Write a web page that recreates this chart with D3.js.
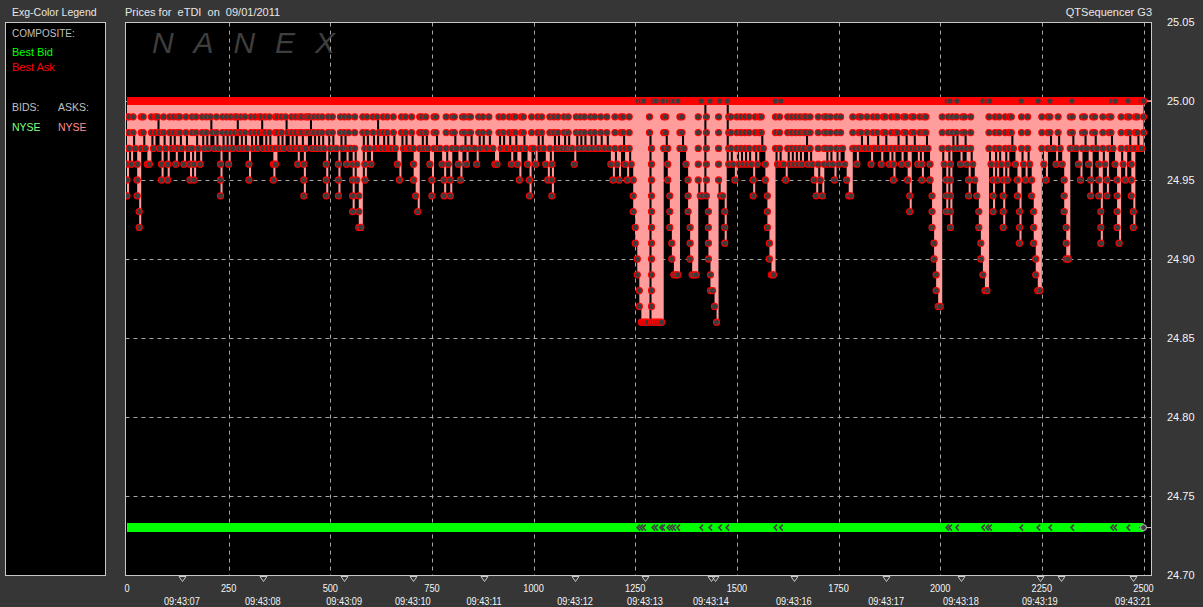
<!DOCTYPE html>
<html><head><meta charset="utf-8">
<script src="https://cdn.jsdelivr.net/npm/d3@7"></script>
<style>
html,body{margin:0;padding:0;background:#363636;}
svg{display:block;font-family:"Liberation Sans",Arial,sans-serif;}
</style></head><body>
<svg id="c" width="1203" height="607"></svg>
<script>
// ---------- DATA ----------
// NYSE ask: deepest level (cents below 25.00) reached in each 5-tick sample
const askDepthA = [6,3,4,2,3,6,8,3,2,3,4,4,2,3,2,1,3,5,2,3,5,2,3,2,4,3,2,3,4,2,3,5,3,5,2,3,4,2,3,2,3,1,2,3,2,3,6,2,3,2,4,2,3,2,1,3,2,3,2,3,5,2,3,2,3,2,1,3,2,3,2,3,5,4,2,3,2,3,1,2,3,2,3,2,4,3,2,6,3,2,1,3,2,3,2,3,2,3,6,2,3,2,3,3,6,2,3,2,4,3,3,7,3,5,8,8,2,5,2,3,4,2,3,1,3];
const askDepthB = [3,2,3,2,3,3,2,3,4,5,2,3,2,3,3,2,5,6,7,3,2,3,2,3,4,6,3,2,3,3,4,6,3,4,6,3,2,3,4,5,3,2,4,3,2,3,3,4,2,3,2,3,3,2,3,3,4,4,2,3,2,3,3,2,4,3,2,4,5,3,2,3,4,6,3,3,4,2,3,2,3,4,5,3,6,2,3,2,3,3,2,3,2,3,3,4,2,3,2,3,2,3,3,2,3,2,3,3,2,3,3,2,3,4,5,3,4,5,3,2,4,5,3,4,7];
const askDepthC = [9,11,13,14,14,14,14,2,14,14,14,14,14,14,3,2,5,8,10,11,11,11,3,2,3,4,7,10,11,11,11,5,6,6,0,6,10,12,12,13,14,5,6,6,9,0,4,3,4,5,3,4,3,4,3,4,3,4,6,3,4,3,2,3,5,8,10,11,11,3,4,3,4,4,5,3,4,3,4,3,4,3,4,3,2,4,3,4,5,6,4,5,6,4,3,4,3,4,5,3,4,3,3,4,5,6,6,3,3,4,3,2,3,3,2,3,4,3,3,2,3,4,3,2,3];
const askDepthD = [4,3,5,3,2,3,4,3,2,5,7,3,2,3,4,3,5,3,2,3,5,8,10,12,13,13,3,4,7,3,8,2,3,2,3,4,3,2,4,6,3,4,5,6,8,10,11,12,12,3,4,7,3,5,3,4,8,3,5,3,2,3,4,6,9,3,4,5,3,4,6,9,11,12,12,3,4,5,3,2,3,3,4,2,3,4,7,10,10,3,2,3,3,4,5,3,2,3,4,6,3,2,3,6,9,3,4,6,3,2,3,4,8,9,3,4,5,3,2,6,8,3,2,3,3,2];
const sampleTicks = 5;            // ticks per sample
const bestAsk = 25.00;            // composite best ask
const bestBid = 24.73;            // composite best bid (= NYSE bid)
const lastTick = 2500;
// ticks at which NYSE ask touched 25.00 (markers on both bands)
const quoteTicks = [1257,1264,1271,1294,1301,1313,1318,1331,1338,1345,1355,1412,1434,1458,1476,1594,1608,2017,2024,2041,2105,2115,2122,2199,2241,2270,2324,2422,2430,2462,2494];
// time (second) markers on bottom axis
const secondTicks = [135,334,534,703,878,1102,1274,1436,1446,1640,1867,2051,2245,2297,2474];
const secondLabels = ["09:43:07","09:43:08","09:43:09","09:43:10","09:43:11","09:43:12","09:43:13","09:43:14","09:43:15","09:43:16","09:43:17","09:43:18","09:43:19","09:43:20","09:43:21"];
const indexTicks = [0,250,500,750,1000,1250,1500,1750,2000,2250,2500];
const priceTicks = [24.70,24.75,24.80,24.85,24.90,24.95,25.00,25.05];

// ---------- DRAW ----------
const svg = d3.select('#c');
const W = 1203, H = 607;
svg.append('rect').attr('width', W).attr('height', H).attr('fill', '#363636');

const x = d3.scaleLinear().domain([0, 2500]).range([127, 1143.5]);
const y = d3.scaleLinear().domain([24.70, 25.05]).range([575, 22]);
const PL = 125.5, PR = 1151.5, PT = 22.5, PB = 575.5;

// titles
const txt = (t, xx, yy, col, anchor, size) => svg.append('text').attr('x', xx).attr('y', yy)
  .attr('fill', col).attr('font-size', size || 11).attr('text-anchor', anchor || 'start')
  .style('white-space', 'pre').text(t);
txt('Exg-Color Legend', 12, 16, '#e6e6e6', 'start', 10.5);
txt('Prices for  eTDI  on  09/01/2011', 125, 16, '#e6e6e6');
txt('QTSequencer G3', 1152, 16, '#e6e6e6', 'end');

// legend box
svg.append('rect').attr('x', 5.5).attr('y', PT).attr('width', 100).attr('height', PB - PT)
  .attr('fill', '#000').attr('stroke', '#c8c8c8');
txt('COMPOSITE:', 12, 37, '#c0c0c0', 'start', 10);
txt('Best Bid', 12, 56, '#00ff00');
txt('Best Ask', 12, 71, '#ff0000');
txt('BIDS:', 12, 111, '#c0c0c0', 'start', 10.5);
txt('ASKS:', 58, 111, '#c0c0c0', 'start', 10.5);
txt('NYSE', 12, 131, '#80ff80', 'start', 10.5);
txt('NYSE', 58, 131, '#ff9090', 'start', 10.5);

// plot frame
svg.append('rect').attr('x', PL).attr('y', PT).attr('width', PR - PL).attr('height', PB - PT)
  .attr('fill', '#000');
svg.append('clipPath').attr('id', 'clip').append('rect')
  .attr('x', PL).attr('y', PT).attr('width', PR - PL).attr('height', PB - PT);
const g = svg.append('g').attr('clip-path', 'url(#clip)');

// watermark
g.append('text').attr('x', 152).attr('y', 53).attr('font-size', 30).attr('font-style', 'italic')
  .attr('fill', '#3e3e3e').attr('textLength', 183).attr('lengthAdjust', 'spacing').text('NANEX');

// grid
g.selectAll('.vg').data(indexTicks.filter(t => t > 0)).enter().append('line')
  .attr('x1', d => Math.round(x(d)) + 0.5).attr('x2', d => Math.round(x(d)) + 0.5)
  .attr('y1', PT).attr('y2', PB).attr('stroke', '#a8a8a8').attr('stroke-dasharray', '4,4');
g.selectAll('.hg').data(priceTicks.filter(p => p > 24.71 && p < 25.04)).enter().append('line')
  .attr('x1', PL).attr('x2', PR)
  .attr('y1', d => Math.round(y(d)) + 0.5).attr('y2', d => Math.round(y(d)) + 0.5)
  .attr('stroke', '#a8a8a8').attr('stroke-dasharray', '4,4');

// NYSE ask samples
const askDepth = [].concat(askDepthA, askDepthB, askDepthC, askDepthD);
const askSamples = askDepth.map((d, i) => ({ t: i * sampleTicks, d: d, p: +(bestAsk - d / 100).toFixed(2) }));

const area = d3.area().x(s => x(s.t)).y0(y(bestAsk)).y1(s => y(s.p)).curve(d3.curveStepAfter);
g.append('path').datum(askSamples).attr('d', area).attr('fill', '#ff9c9c');

// markers: a descent walks down one cent at a time; a rise jumps back to 24.99 first
const markers = [];
askSamples.forEach((s, i) => {
  const pd = i ? askSamples[i - 1].d : 0;
  let from;
  if (s.d > pd) from = pd + 1;
  else if (s.d < pd) from = 1;
  else from = s.d;
  for (let L = Math.max(1, from); L <= s.d; L++) markers.push({ t: s.t, p: bestAsk - L / 100 });
});
g.selectAll('.am').data(markers).enter().append('circle')
  .attr('cx', d => x(d.t)).attr('cy', d => y(d.p)).attr('r', 3.1)
  .attr('fill', '#3c3c3c').attr('stroke', '#ff0000').attr('stroke-width', 1.1);

// composite best ask line
const line = d3.line().x(d => x(d.t)).y(d => y(d.p));
g.append('path').datum([{ t: 0, p: bestAsk }, { t: lastTick, p: bestAsk }]).attr('d', line)
  .attr('stroke', '#ff0000').attr('stroke-width', 8).attr('fill', 'none');
g.selectAll('.tm').data(quoteTicks).enter().append('circle')
  .attr('cx', d => x(d)).attr('cy', y(bestAsk)).attr('r', 3.1)
  .attr('fill', '#3c3c3c').attr('stroke', '#ff0000').attr('stroke-width', 1.1);

// best bid line
g.append('path').datum([{ t: 0, p: bestBid }, { t: lastTick, p: bestBid }]).attr('d', line)
  .attr('stroke', '#00ff00').attr('stroke-width', 9).attr('fill', 'none');
g.selectAll('.bm').data(quoteTicks).enter().append('path')
  .attr('d', d => `M${x(d) + 2},${y(bestBid) - 3}L${x(d) - 1},${y(bestBid)}L${x(d) + 2},${y(bestBid) + 3}`)
  .attr('fill', 'none').attr('stroke', '#404040').attr('stroke-width', 1.6);

// end markers + last price ticks
svg.append('line').attr('x1', x(lastTick)).attr('x2', PR).attr('y1', y(bestAsk)).attr('y2', y(bestAsk))
  .attr('stroke', '#ff9c9c').attr('stroke-width', 1.5);
svg.append('circle').attr('cx', x(lastTick)).attr('cy', y(bestAsk)).attr('r', 3.1)
  .attr('fill', '#3c3c3c').attr('stroke', '#ff0000').attr('stroke-width', 1.1);
svg.append('line').attr('x1', x(lastTick)).attr('x2', PR).attr('y1', y(bestBid)).attr('y2', y(bestBid))
  .attr('stroke', '#c8c8c8').attr('stroke-width', 1);
svg.append('circle').attr('cx', x(lastTick)).attr('cy', y(bestBid)).attr('r', 3)
  .attr('fill', '#404040').attr('stroke', '#c8c8c8').attr('stroke-width', 1);

// frame border
svg.append('rect').attr('x', PL).attr('y', PT).attr('width', PR - PL).attr('height', PB - PT)
  .attr('fill', 'none').attr('stroke', '#c8c8c8');

// right price axis
svg.selectAll('.yl').data(priceTicks).enter().append('text')
  .attr('x', 1167).attr('y', d => y(d) + 4).attr('fill', '#f4f4f4').attr('font-size', 11)
  .text(d => d3.format('.2f')(d));

// bottom index axis (narrow bitmap-like digits)
svg.selectAll('.xl').data(indexTicks).enter().append('text')
  .attr('transform', d => `translate(${x(d)},591.5) scale(0.8,1)`)
  .attr('fill', '#f4f4f4').attr('font-size', 11.5)
  .attr('text-anchor', 'middle').text(d => d);

// second markers
svg.selectAll('.sm').data(secondTicks).enter().append('path')
  .attr('d', d => { const cx = Math.round(x(d)) + 0.5; return `M${cx - 3.5},576.5L${cx + 3.5},576.5L${cx},581.5Z`; })
  .attr('fill', 'none').attr('stroke', '#c8c8c8');
let lastX = -1e9;
secondTicks.forEach((t, i) => {
  const cx = x(t);
  if (cx - lastX < 55) return;
  lastX = cx;
  svg.append('text').attr('transform', `translate(${cx},605) scale(0.8,1)`)
    .attr('fill', '#f4f4f4').attr('font-size', 11.5)
    .attr('text-anchor', 'middle').text(secondLabels[i]);
});
</script></body></html>
